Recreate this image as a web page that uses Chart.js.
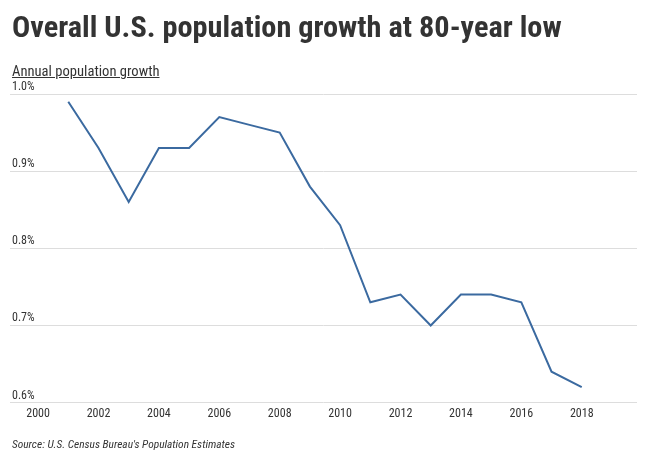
<!DOCTYPE html>
<html>
<head>
<meta charset="utf-8">
<script src="https://cdn.jsdelivr.net/npm/chart.js@4"></script>
<style>
  body { margin: 0; background: #fff; }
  #wrap { position: relative; width: 660px; height: 462px; }
  canvas { position: absolute; left: 0; top: 0; }
  .txt { position: absolute; color: #333; font-family: "Roboto Condensed", "Liberation Sans Narrow", Roboto, sans-serif; white-space: nowrap; }
  #title { left: 12px; top: 9px; font-size: 30.3px; font-weight: bold; }
  #sub { left: 12px; top: 62px; font-size: 14.6px; text-decoration: underline; }
  #src { left: 12px; top: 437px; font-size: 11.4px; font-style: italic; }
</style>
</head>
<body>
<div id="wrap">
  <canvas id="chart" width="660" height="462"></canvas>
  <div class="txt" id="title">Overall U.S. population growth at 80-year low</div>
  <div class="txt" id="sub">Annual population growth</div>
  <div class="txt" id="src">Source: U.S. Census Bureau's Population Estimates</div>
</div>
<script>
// data
const years = [2001, 2002, 2003, 2004, 2005, 2006, 2007, 2008, 2009, 2010, 2011, 2012, 2013, 2014, 2015, 2016, 2017, 2018];
const growth = [0.99, 0.93, 0.86, 0.93, 0.93, 0.97, 0.96, 0.95, 0.88, 0.83, 0.73, 0.74, 0.70, 0.74, 0.74, 0.73, 0.64, 0.62];
const xTicks = [2000, 2002, 2004, 2006, 2008, 2010, 2012, 2014, 2016, 2018];
const yTicks = [0.6, 0.7, 0.8, 0.9, 1.0];

const points = years.map((y, i) => ({ x: y, y: growth[i] }));

const ctx = document.getElementById('chart').getContext('2d');
new Chart(ctx, {
  type: 'line',
  data: {
    datasets: [{
      data: points,
      borderColor: '#3b6aa0',
      borderWidth: 2,
      pointRadius: 0,
      tension: 0
    }]
  },
  options: {
    responsive: false,
    animation: false,
    layout: { padding: { left: 6, right: 23, top: 94, bottom: 37 } },
    plugins: { legend: { display: false }, tooltip: { enabled: false } },
    scales: {
      x: {
        type: 'linear',
        min: 1999.07,
        max: 2019.83,
        afterBuildTicks: axis => { axis.ticks = xTicks.map(v => ({ value: v })); },
        grid: { display: false, drawTicks: false },
        border: { display: false },
        ticks: {
          padding: 4,
          maxRotation: 0,
          color: '#333',
          font: { family: 'Roboto Condensed', size: 12 },
          callback: v => String(v)
        }
      },
      y: {
        min: 0.6,
        max: 1.0,
        afterBuildTicks: axis => { axis.ticks = yTicks.map(v => ({ value: v })); },
        grid: { color: '#dddddd', drawTicks: false, lineWidth: 1 },
        border: { display: false },
        ticks: {
          mirror: true,
          padding: 2,
          labelOffset: -7,
          color: '#333',
          font: { family: 'Roboto Condensed', size: 12 },
          callback: v => v.toFixed(1) + '%'
        }
      }
    }
  }
});
</script>
</body>
</html>
